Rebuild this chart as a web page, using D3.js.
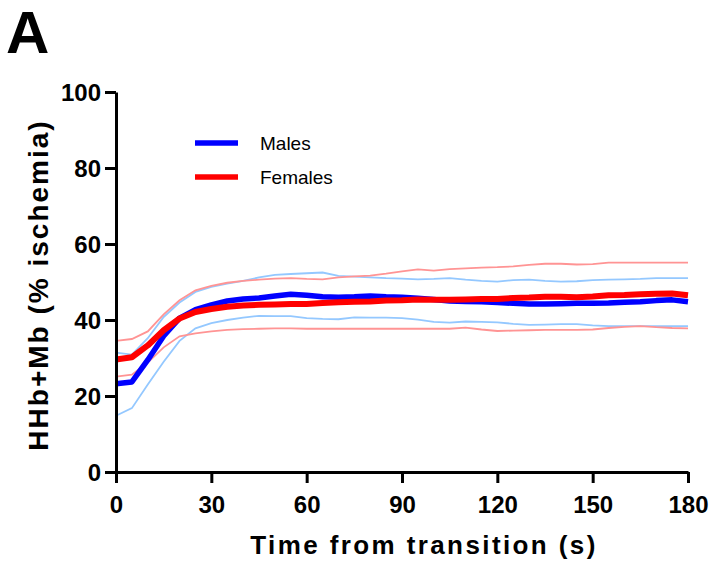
<!DOCTYPE html>
<html>
<head>
<meta charset="utf-8">
<script src="https://cdn.jsdelivr.net/npm/d3@7"></script>
<style>
  html, body { margin: 0; padding: 0; background: #fff; }
  svg { display: block; }
</style>
</head>
<body>
<script>
// ---- data (time in s, HHb+Mb in % ischemia) ----
const time = [0,5,10,15,20,25,30,35,40,45,50,55,60,65,70,75,80,85,90,95,100,105,110,115,120,125,130,135,140,145,150,155,160,165,170,175,180];
const malesMean = [23.2,23.7,29.5,35.8,40.5,42.7,44.0,45.0,45.5,45.8,46.3,46.8,46.5,46.1,46.0,46.1,46.3,46.1,46.0,45.7,45.4,45.0,44.9,44.8,44.6,44.4,44.2,44.2,44.3,44.4,44.4,44.5,44.7,44.8,45.1,45.3,44.8];
const malesUpper = [31.4,30.9,35.2,40.8,44.6,47.4,48.7,49.6,50.3,51.2,51.9,52.1,52.3,52.5,51.6,51.4,51.2,51.0,50.9,50.7,50.8,51.0,50.6,50.3,50.1,50.5,50.6,50.3,50.1,50.2,50.5,50.6,50.7,50.8,51.0,51.0,51.0];
const malesLower = [14.8,16.8,23.0,29.0,34.5,37.8,39.2,40.0,40.6,41.1,41.0,41.0,40.5,40.3,40.2,40.7,40.6,40.6,40.5,40.1,39.5,39.3,39.6,39.5,39.4,39.0,38.7,38.8,38.9,38.9,38.6,38.4,38.4,38.4,38.4,38.4,38.4];
const femalesMean = [29.6,30.2,33.3,37.3,40.4,42.1,42.9,43.5,43.8,44.0,44.1,44.2,44.2,44.5,44.7,44.8,44.9,45.1,45.2,45.4,45.3,45.3,45.4,45.5,45.5,45.8,45.9,46.1,46.1,46.0,46.2,46.5,46.6,46.8,46.9,47.0,46.5];
const femalesUpper = [34.5,35.0,37.0,41.5,45.2,47.8,49.0,49.8,50.3,50.6,50.9,51.0,50.8,50.7,51.2,51.5,51.7,52.2,52.8,53.3,53.0,53.4,53.6,53.8,53.9,54.1,54.5,54.8,54.8,54.6,54.7,55.1,55.1,55.1,55.1,55.1,55.1];
const femalesLower = [25.1,25.6,28.8,32.8,35.7,36.5,37.0,37.4,37.6,37.7,37.8,37.8,37.7,37.7,37.7,37.7,37.7,37.7,37.7,37.7,37.7,37.7,38.0,37.5,37.1,37.2,37.3,37.4,37.4,37.4,37.5,37.9,38.2,38.4,38.1,37.9,37.8];
const xTicks = [0,30,60,90,120,150,180];
const yTicks = [0,20,40,60,80,100];
const legendLabels = ["Males","Females"];
const panelLabel = "A";
const xTitle = "Time from transition (s)";
const yTitle = "HHb+Mb (% ischemia)";

// ---- drawing ----
const W = 714, H = 562;
const svg = d3.select("body").append("svg").attr("width", W).attr("height", H);
const FONT = "'Liberation Sans', Arial, Helvetica, sans-serif";

const x = d3.scaleLinear().domain([0,180]).range([116, 688]);
const y = d3.scaleLinear().domain([0,100]).range([472, 92]);

const col = { mBold: "#0000ff", fBold: "#ff0000", mLight: "#94c8ff", fLight: "#ff9494" };

function series(vals){ return time.map((t,i)=>[t, vals[i]]); }
const line = d3.line().x(d=>x(d[0])).y(d=>y(d[1]));

const g = svg.append("g");
[[malesUpper,col.mLight],[malesLower,col.mLight],[femalesUpper,col.fLight],[femalesLower,col.fLight]].forEach(([v,c])=>{
  g.append("path").attr("d", line(series(v))).attr("fill","none").attr("stroke",c).attr("stroke-width",1.8);
});
g.append("path").attr("d", line(series(malesMean))).attr("fill","none").attr("stroke",col.mBold).attr("stroke-width",5.5).attr("stroke-linejoin","round");
g.append("path").attr("d", line(series(femalesMean))).attr("fill","none").attr("stroke",col.fBold).attr("stroke-width",6).attr("stroke-linejoin","round");

// axes
const xAxis = svg.append("g").attr("transform", `translate(0,${y(0)})`)
  .call(d3.axisBottom(x).tickValues(xTicks).tickSize(11).tickSizeOuter(0).tickPadding(13));
const yAxis = svg.append("g").attr("transform", `translate(${x(0)},0)`)
  .call(d3.axisLeft(y).tickValues(yTicks).tickSize(11).tickSizeOuter(0).tickPadding(4));
[xAxis, yAxis].forEach(a=>{
  a.selectAll("path.domain").attr("stroke","#000").attr("stroke-width",3);
  a.selectAll(".tick line").attr("stroke","#000").attr("stroke-width",3);
  a.selectAll(".tick text").attr("fill","#000").style("font-family",FONT).style("font-weight","bold").style("font-size","24px");
});
xAxis.selectAll(".tick text").attr("dy","0.71em");
yAxis.selectAll(".tick text").attr("dy","0.36em");

// titles
svg.append("text").attr("x", 424).attr("y", 554).attr("text-anchor","middle")
  .style("font-family",FONT).style("font-weight","bold").style("font-size","26px").style("letter-spacing","2.4px").text(xTitle);
svg.append("text").attr("transform", `translate(48,${(y(0)+y(100))/2 + 3}) rotate(-90)`).attr("text-anchor","middle")
  .style("font-family",FONT).style("font-weight","bold").style("font-size","28px").style("letter-spacing","2px").text(yTitle);
svg.append("text").attr("x", 6).attr("y", 53)
  .style("font-family",FONT).style("font-weight","bold").style("font-size","60px").text(panelLabel);

// legend
const leg = svg.append("g");
[[col.mBold, 143],[col.fBold, 177]].forEach(([c,yy],i)=>{
  leg.append("line").attr("x1",195).attr("x2",238).attr("y1",yy).attr("y2",yy).attr("stroke",c).attr("stroke-width",5.5);
  leg.append("text").attr("x",260).attr("y",yy).attr("dy","0.36em")
    .style("font-family",FONT).style("font-size","19px").attr("fill","#000").text(legendLabels[i]);
});
</script>
</body>
</html>
